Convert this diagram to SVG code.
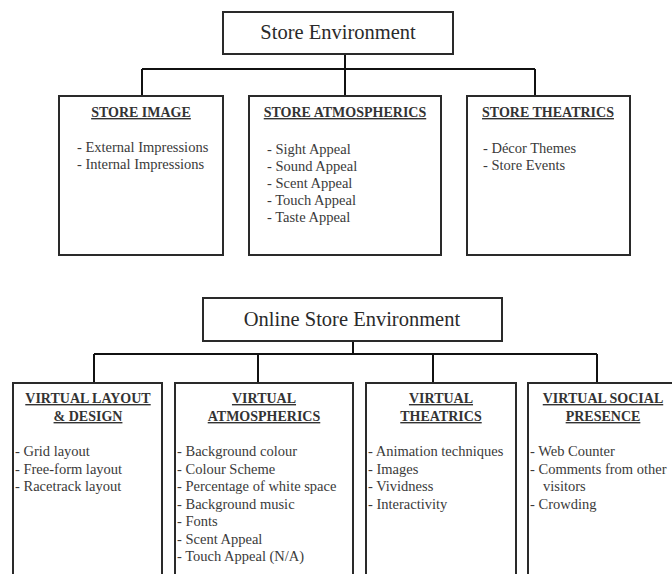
<svg xmlns="http://www.w3.org/2000/svg" width="672" height="574" viewBox="0 0 672 574">
<style>
.box{fill:#fff;stroke:#2a2a2a;stroke-width:2}
.conn{fill:none;stroke:#111;stroke-width:2}
.title{font-family:"Liberation Serif","Times New Roman",serif;font-size:20.5px;fill:#2a2a2a;text-anchor:middle}
.head{font-family:"Liberation Serif","Times New Roman",serif;font-size:14px;font-weight:bold;fill:#333;text-anchor:middle;text-decoration:underline}
.item{font-family:"Liberation Serif","Times New Roman",serif;font-size:14.5px;fill:#3a3a3a}
</style>
<rect width="672" height="574" fill="#fff"/>
<g id="connectors">
<path class="conn" d="M345 54 V69 M142 69 H535 M142 69 V96 M345 69 V96 M535 69 V96"/>
<path class="conn" d="M353 341 V354 M94 354 H597 M94 354 V383 M258 354 V383 M433 354 V383 M597 354 V383"/>
</g>
<g id="store-environment">
<rect class="box" x="223" y="12" width="230" height="42"/>
<text class="title" x="338" y="39">Store Environment</text>
</g>
<g id="store-image">
<rect class="box" x="59" y="96" width="164" height="159"/>
<text class="head" x="141" y="117">STORE IMAGE</text>
<text class="item" x="77" y="152">- External Impressions</text>
<text class="item" x="77" y="169">- Internal Impressions</text>
</g>
<g id="store-atmospherics">
<rect class="box" x="249" y="96" width="192" height="159"/>
<text class="head" x="345" y="117">STORE ATMOSPHERICS</text>
<text class="item" x="267" y="154">- Sight Appeal</text>
<text class="item" x="267" y="171">- Sound Appeal</text>
<text class="item" x="267" y="188">- Scent Appeal</text>
<text class="item" x="267" y="205">- Touch Appeal</text>
<text class="item" x="267" y="222">- Taste Appeal</text>
</g>
<g id="store-theatrics">
<rect class="box" x="467" y="96" width="163" height="159"/>
<text class="head" x="548" y="117">STORE THEATRICS</text>
<text class="item" x="483" y="153">- Décor Themes</text>
<text class="item" x="483" y="170">- Store Events</text>
</g>
<g id="online-store-environment">
<rect class="box" x="203" y="298" width="299" height="43"/>
<text class="title" x="352" y="326">Online Store Environment</text>
</g>
<g id="virtual-layout">
<rect class="box" x="13" y="383" width="149" height="200"/>
<text class="head" x="88" y="403">VIRTUAL LAYOUT</text>
<text class="head" x="88" y="421">&amp; DESIGN</text>
<text class="item" x="15" y="456">- Grid layout</text>
<text class="item" x="15" y="473.5">- Free-form layout</text>
<text class="item" x="15" y="491">- Racetrack layout</text>
</g>
<g id="virtual-atmospherics">
<rect class="box" x="175" y="383" width="178" height="200"/>
<text class="head" x="264" y="403">VIRTUAL</text>
<text class="head" x="264" y="421">ATMOSPHERICS</text>
<text class="item" x="177" y="456">- Background colour</text>
<text class="item" x="177" y="473.5">- Colour Scheme</text>
<text class="item" x="177" y="491">- Percentage of white space</text>
<text class="item" x="177" y="508.5">- Background music</text>
<text class="item" x="177" y="526">- Fonts</text>
<text class="item" x="177" y="543.5">- Scent Appeal</text>
<text class="item" x="177" y="561">- Touch Appeal (N/A)</text>
</g>
<g id="virtual-theatrics">
<rect class="box" x="366" y="383" width="150" height="200"/>
<text class="head" x="441" y="403">VIRTUAL</text>
<text class="head" x="441" y="421">THEATRICS</text>
<text class="item" x="368" y="456">- Animation techniques</text>
<text class="item" x="368" y="473.5">- Images</text>
<text class="item" x="368" y="491">- Vividness</text>
<text class="item" x="368" y="508.5">- Interactivity</text>
</g>
<g id="virtual-social-presence">
<rect class="box" x="528" y="383" width="152" height="200"/>
<text class="head" x="603" y="403">VIRTUAL SOCIAL</text>
<text class="head" x="603" y="421">PRESENCE</text>
<text class="item" x="530" y="456">- Web Counter</text>
<text class="item" x="530" y="473.5">- Comments from other</text>
<text class="item" x="543" y="491">visitors</text>
<text class="item" x="530" y="508.5">- Crowding</text>
</g>
</svg>
